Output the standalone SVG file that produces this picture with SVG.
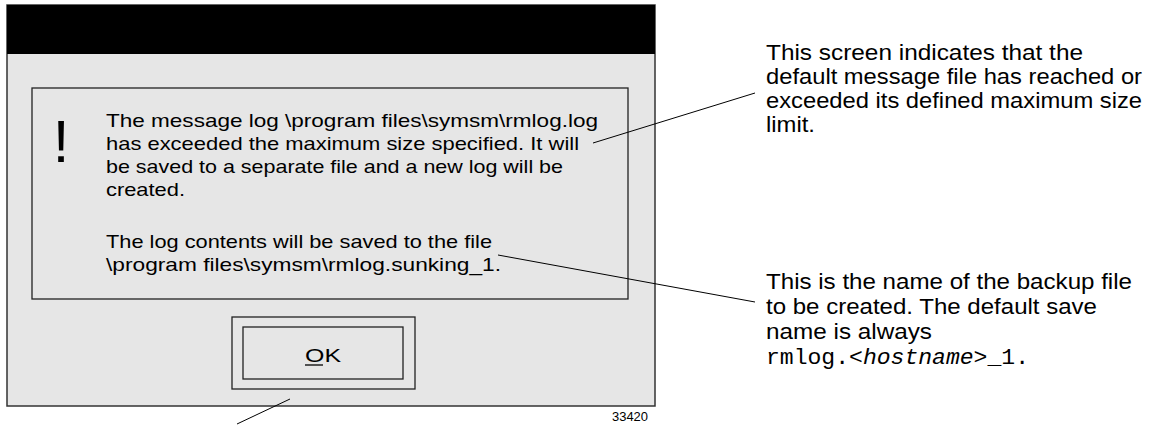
<svg xmlns="http://www.w3.org/2000/svg" width="1153" height="425" viewBox="0 0 1153 425">
  <style>
    .dlg { font-family: "Liberation Sans", Arial, sans-serif; font-size: 18.5px; fill: #000; }
    .note { font-family: "Liberation Sans", Arial, sans-serif; font-size: 21.5px; fill: #000; }
    .mono { font-family: "Liberation Mono", "Courier New", monospace; font-size: 22px; fill: #000; }
    .frame { fill: none; stroke: #222; stroke-width: 1.3; }
    .lead { stroke: #000; stroke-width: 1; fill: none; }
  </style>
  <rect width="1153" height="425" fill="#ffffff"/>

  <!-- dialog window -->
  <g id="dialog">
    <rect x="7" y="5" width="648" height="401" fill="#e6e6e6" stroke="#333" stroke-width="1.5"/>
    <rect x="7" y="5" width="648" height="49" fill="#000"/>
  </g>

  <!-- message panel -->
  <g id="message">
    <rect x="32" y="88" width="596" height="211" class="frame"/>
    <text x="61" y="162" font-family="Liberation Sans, Arial, sans-serif" font-size="60" text-anchor="middle">!</text>
    <text class="dlg">
      <tspan x="106" y="127" textLength="492" lengthAdjust="spacingAndGlyphs">The message log \program files\symsm\rmlog.log</tspan>
      <tspan x="106" y="150" textLength="473" lengthAdjust="spacingAndGlyphs">has exceeded the maximum size specified. It will</tspan>
      <tspan x="106" y="173" textLength="457" lengthAdjust="spacingAndGlyphs">be saved to a separate file and a new log will be</tspan>
      <tspan x="106" y="196" textLength="79" lengthAdjust="spacingAndGlyphs">created.</tspan>
      <tspan x="106" y="248" textLength="386" lengthAdjust="spacingAndGlyphs">The log contents will be saved to the file</tspan>
      <tspan x="106" y="271" textLength="395" lengthAdjust="spacingAndGlyphs">\program files\symsm\rmlog.sunking_1.</tspan>
    </text>
  </g>

  <!-- OK button -->
  <g id="ok-button">
    <rect x="232" y="317" width="183" height="72" class="frame"/>
    <rect x="243" y="327" width="160" height="52" class="frame"/>
    <text class="dlg" x="305" y="362" font-size="22" textLength="36" lengthAdjust="spacingAndGlyphs">OK</text>
    <line x1="305" y1="365" x2="323" y2="365" stroke="#000" stroke-width="1.3"/>
  </g>

  <!-- callout notes -->
  <g id="note-limit">
    <text class="note">
      <tspan x="766" y="60" textLength="317" lengthAdjust="spacingAndGlyphs">This screen indicates that the</tspan>
      <tspan x="766" y="84" textLength="376" lengthAdjust="spacingAndGlyphs">default message file has reached or</tspan>
      <tspan x="766" y="108" textLength="376" lengthAdjust="spacingAndGlyphs">exceeded its defined maximum size</tspan>
      <tspan x="766" y="132" textLength="49" lengthAdjust="spacingAndGlyphs">limit.</tspan>
    </text>
  </g>
  <g id="note-backup">
    <text class="note">
      <tspan x="766" y="289" textLength="366" lengthAdjust="spacingAndGlyphs">This is the name of the backup file</tspan>
      <tspan x="766" y="314" textLength="331" lengthAdjust="spacingAndGlyphs">to be created. The default save</tspan>
      <tspan x="766" y="339" textLength="166" lengthAdjust="spacingAndGlyphs">name is always</tspan>
    </text>
    <text class="mono" x="766" y="364" textLength="263" lengthAdjust="spacingAndGlyphs">rmlog.&lt;<tspan font-style="italic">hostname</tspan>&gt;_1.</text>
  </g>

  <text id="figure-number" x="612" y="421" font-family="Liberation Sans, Arial, sans-serif" font-size="12" textLength="36" lengthAdjust="spacingAndGlyphs">33420</text>

  <!-- leader lines -->
  <g id="connectors">
    <line class="lead" x1="593" y1="143" x2="755" y2="93"/>
    <line class="lead" x1="498" y1="255" x2="755" y2="302"/>
    <line class="lead" x1="290" y1="399" x2="237" y2="424"/>
  </g>
</svg>
